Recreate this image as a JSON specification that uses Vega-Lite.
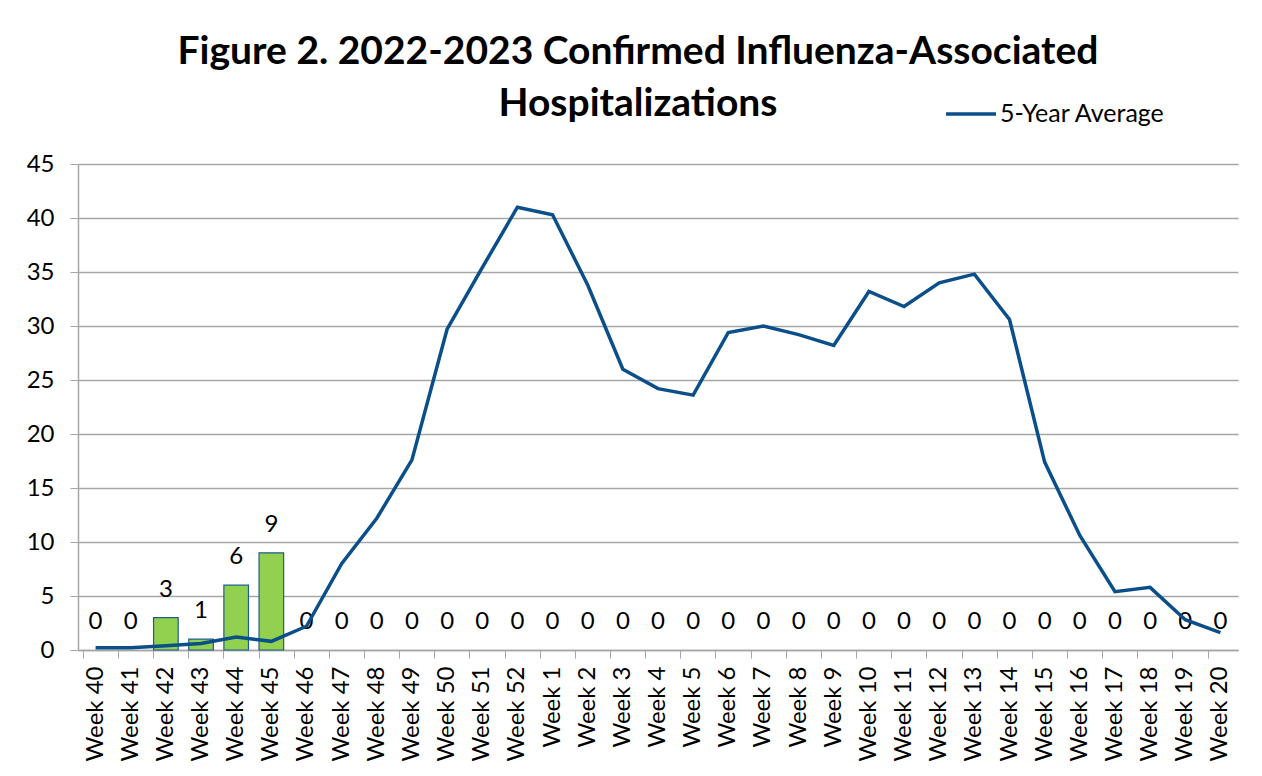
{
  "$schema": "https://vega.github.io/schema/vega-lite/v6.json",
  "width": 1160,
  "height": 486,
  "autosize": {"type": "none"},
  "padding": {"left": 78, "top": 164, "right": 24, "bottom": 126},
  "background": "white",
  "title": {
    "text": ["Figure 2. 2022-2023 Confirmed Influenza-Associated", "Hospitalizations"],
    "font": "Lato",
    "fontSize": 39,
    "fontWeight": "bold",
    "color": "#000000",
    "anchor": "middle",
    "dx": -20,
    "dy": 79,
    "lineHeight": 52,
    "offset": 42
  },
  "data": {
    "values": [
      {"week": "Week 40", "cases": 0, "avg": 0.2},
      {"week": "Week 41", "cases": 0, "avg": 0.2},
      {"week": "Week 42", "cases": 3, "avg": 0.4},
      {"week": "Week 43", "cases": 1, "avg": 0.6},
      {"week": "Week 44", "cases": 6, "avg": 1.2},
      {"week": "Week 45", "cases": 9, "avg": 0.8},
      {"week": "Week 46", "cases": 0, "avg": 2.2},
      {"week": "Week 47", "cases": 0, "avg": 8.0},
      {"week": "Week 48", "cases": 0, "avg": 12.2},
      {"week": "Week 49", "cases": 0, "avg": 17.6},
      {"week": "Week 50", "cases": 0, "avg": 29.7},
      {"week": "Week 51", "cases": 0, "avg": 35.4},
      {"week": "Week 52", "cases": 0, "avg": 41.0},
      {"week": "Week 1", "cases": 0, "avg": 40.3},
      {"week": "Week 2", "cases": 0, "avg": 33.8},
      {"week": "Week 3", "cases": 0, "avg": 26.0},
      {"week": "Week 4", "cases": 0, "avg": 24.2},
      {"week": "Week 5", "cases": 0, "avg": 23.6},
      {"week": "Week 6", "cases": 0, "avg": 29.4},
      {"week": "Week 7", "cases": 0, "avg": 30.0},
      {"week": "Week 8", "cases": 0, "avg": 29.2},
      {"week": "Week 9", "cases": 0, "avg": 28.2},
      {"week": "Week 10", "cases": 0, "avg": 33.2},
      {"week": "Week 11", "cases": 0, "avg": 31.8},
      {"week": "Week 12", "cases": 0, "avg": 34.0},
      {"week": "Week 13", "cases": 0, "avg": 34.8},
      {"week": "Week 14", "cases": 0, "avg": 30.6},
      {"week": "Week 15", "cases": 0, "avg": 17.4},
      {"week": "Week 16", "cases": 0, "avg": 10.6},
      {"week": "Week 17", "cases": 0, "avg": 5.4},
      {"week": "Week 18", "cases": 0, "avg": 5.8},
      {"week": "Week 19", "cases": 0, "avg": 2.8},
      {"week": "Week 20", "cases": 0, "avg": 1.6}
    ]
  },
  "encoding": {
    "x": {
      "field": "week",
      "type": "ordinal",
      "sort": null,
      "scale": {"paddingInner": 0.3, "paddingOuter": 0.15},
      "axis": {
        "title": null,
        "labelAngle": -90,
        "labelFont": "Lato",
        "labelFontSize": 24,
        "labelColor": "#000000",
        "labelPadding": 8,
        "labelAlign": "right",
        "labelBaseline": "middle",
        "bandPosition": 0,
        "tickColor": "#a6a6a6",
        "tickSize": 8,
        "domainColor": "#a6a6a6",
        "domainWidth": 1.5,
        "grid": false
      }
    }
  },
  "layer": [
    {
      "mark": {"type": "bar", "color": "#92D050", "stroke": "#1F5E8C", "strokeWidth": 1.2},
      "encoding": {
        "y": {
          "field": "cases",
          "type": "quantitative",
          "scale": {"domain": [0, 45]},
          "axis": {
            "title": null,
            "values": [0, 5, 10, 15, 20, 25, 30, 35, 40, 45],
            "labelFont": "Lato",
            "labelFontSize": 24,
            "labelColor": "#000000",
            "labelPadding": 16,
            "tickColor": "#a6a6a6",
            "tickSize": 8,
            "domainColor": "#a6a6a6",
            "domainWidth": 1.5,
            "gridColor": "#a6a6a6",
            "gridWidth": 1.5
          }
        },
        "strokeOpacity": {"condition": {"test": "datum.cases == 0", "value": 0}, "value": 1}
      }
    },
    {
      "mark": {"type": "text", "font": "Lato", "fontSize": 24, "color": "#000000", "baseline": "middle", "dy": -28},
      "encoding": {
        "y": {"field": "cases", "type": "quantitative"},
        "text": {"field": "cases", "type": "quantitative"}
      }
    },
    {
      "mark": {"type": "line", "strokeWidth": 3.5},
      "encoding": {
        "y": {"field": "avg", "type": "quantitative"},
        "color": {
          "datum": "5-Year Average",
          "scale": {"range": ["#0B4F8A"]},
          "legend": {
            "title": null,
            "orient": "none",
            "legendX": 866,
            "legendY": -77,
            "symbolType": "stroke",
            "symbolSize": 2500,
            "symbolStrokeWidth": 3.5,
            "labelFont": "Lato",
            "labelFontSize": 25,
            "labelColor": "#000000",
            "labelOffset": 2,
            "labelLimit": 0
          }
        }
      }
    }
  ],
  "config": {"view": {"stroke": null}}
}
